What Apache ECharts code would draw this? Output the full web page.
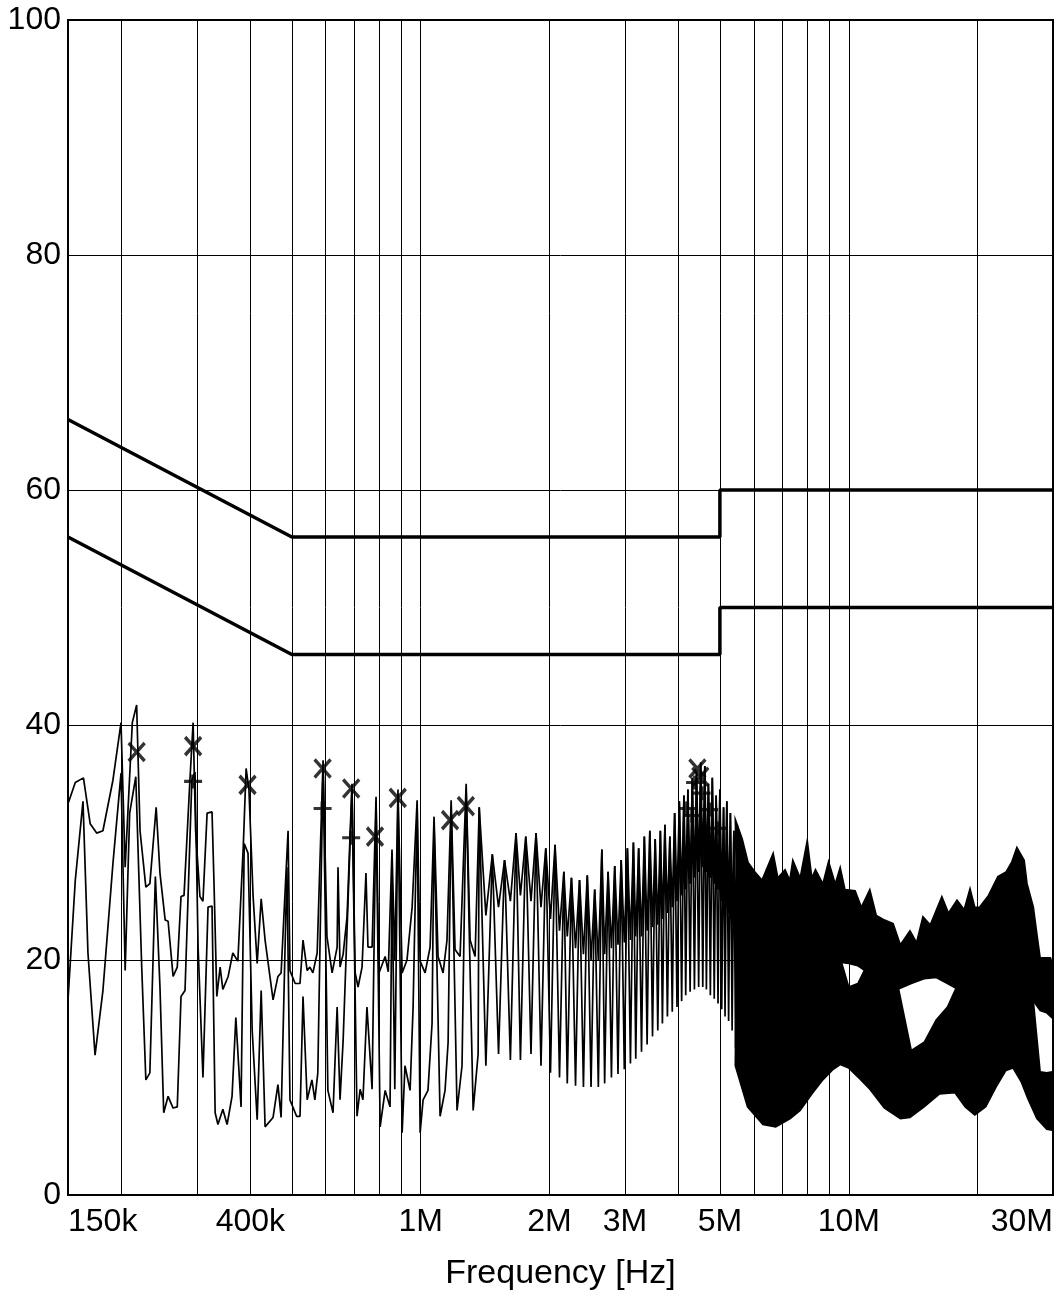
<!DOCTYPE html>
<html>
<head>
<meta charset="utf-8">
<script src="https://cdn.jsdelivr.net/npm/echarts@6/dist/echarts.min.js"></script>
<style>
  html, body { margin: 0; padding: 0; background: #fff; }
  #emi-chart { width: 1059px; height: 1296px; }
</style>
</head>
<body>
<div id="emi-chart"></div>
<script>
  // frequencies are in MHz, levels in dB
  const gridFreqs = [0.15, 0.2, 0.3, 0.4, 0.5, 0.6, 0.7, 0.8, 0.9, 1, 2, 3, 4, 5, 6, 7, 8, 9, 10, 20, 30]
  const labelFreqs = [0.15, 0.4, 1, 2, 3, 5, 10, 30]
  const yTicks = [0, 20, 40, 60, 80, 100]

  // limit lines (QP / AV)
  const qpLimit = [[0.15, 66], [0.5, 56], [5, 56], [5, 60], [30, 60]]
  const avLimit = [[0.15, 56], [0.5, 46], [5, 46], [5, 50], [30, 50]]

  // upper trace below 1.37 MHz
  const peakLow = [
    [0.150, 33.3], [0.156, 35.1], [0.163, 35.5], [0.169, 31.6], [0.175, 30.8], [0.181, 31.0],
    [0.191, 35.3], [0.1995, 40.2], [0.204, 27.9], [0.212, 40.2], [0.217, 41.7], [0.221, 31.0],
    [0.228, 26.2], [0.233, 26.5], [0.241, 33.0], [0.246, 27.4], [0.253, 23.4], [0.257, 23.3],
    [0.264, 18.6], [0.270, 19.4], [0.2755, 25.4], [0.280, 25.5], [0.289, 35.3], [0.294, 40.2],
    [0.298, 31.0], [0.305, 25.4], [0.310, 25.0], [0.317, 32.5], [0.3255, 32.6], [0.329, 26.5],
    [0.334, 16.9], [0.340, 19.4], [0.345, 17.5], [0.355, 18.6], [0.364, 20.6], [0.374, 19.9],
    [0.385, 29.6], [0.391, 36.3], [0.397, 34.5], [0.406, 25.4], [0.415, 19.7], [0.424, 25.2],
    [0.433, 21.7], [0.452, 16.6], [0.464, 18.6], [0.472, 18.9], [0.490, 31.0], [0.495, 19.1],
    [0.509, 18.0], [0.5225, 18.0], [0.531, 21.7], [0.543, 19.1], [0.551, 19.4], [0.560, 18.9],
    [0.573, 20.6], [0.5915, 37.0], [0.604, 22.0], [0.621, 18.9], [0.638, 21.1], [0.641, 27.9],
    [0.648, 19.4], [0.659, 20.5], [0.673, 23.7], [0.691, 35.0], [0.703, 18.9], [0.714, 17.7],
    [0.7295, 19.4], [0.745, 27.4], [0.753, 21.1], [0.770, 21.1], [0.7865, 33.9], [0.799, 18.9],
    [0.826, 20.3], [0.840, 19.0], [0.857, 29.4], [0.870, 20.0], [0.885, 34.5], [0.905, 18.9],
    [0.929, 20.0], [0.955, 24.5], [0.981, 33.6], [0.997, 19.9], [1.024, 18.9], [1.052, 21.1],
    [1.0745, 32.2], [1.098, 20.3], [1.128, 18.9], [1.152, 21.7], [1.178, 33.6], [1.203, 20.9],
    [1.236, 20.3], [1.277, 35.0], [1.3045, 21.7], [1.340, 20.3]
  ]

  // lower trace below 1.37 MHz
  const avgLow = [
    [0.150, 16.6], [0.156, 26.8], [0.1626, 33.5], [0.167, 20.6], [0.1735, 11.9], [0.181, 17.4],
    [0.191, 28.2], [0.1995, 35.9], [0.204, 19.1], [0.209, 32.5], [0.216, 35.6], [0.223, 19.4],
    [0.228, 9.8], [0.233, 10.4], [0.240, 27.1], [0.246, 17.7], [0.251, 7.0], [0.257, 8.4],
    [0.264, 7.4], [0.270, 7.5], [0.2755, 16.9], [0.2815, 17.4], [0.292, 35.3], [0.297, 36.0],
    [0.302, 21.1], [0.310, 10.0], [0.3186, 24.5], [0.3255, 24.6], [0.331, 7.0], [0.336, 6.0],
    [0.345, 7.3], [0.353, 6.0], [0.3625, 8.4], [0.370, 15.1], [0.3805, 7.5], [0.387, 29.9],
    [0.395, 29.1], [0.404, 14.0], [0.415, 6.4], [0.424, 17.4], [0.433, 5.8], [0.452, 6.6],
    [0.464, 9.4], [0.472, 6.6], [0.487, 27.9], [0.495, 8.1], [0.513, 6.7], [0.5225, 6.7],
    [0.531, 16.9], [0.543, 8.1], [0.557, 9.8], [0.566, 8.1], [0.575, 10.4], [0.5915, 36.5],
    [0.607, 8.9], [0.624, 7.0], [0.638, 16.0], [0.648, 8.1], [0.659, 13.2], [0.691, 34.5],
    [0.710, 6.7], [0.722, 9.0], [0.733, 8.1], [0.749, 16.0], [0.770, 9.0], [0.7865, 33.5],
    [0.804, 5.8], [0.826, 8.9], [0.848, 7.5], [0.857, 27.0], [0.870, 9.0], [0.885, 34.0],
    [0.905, 5.3], [0.919, 11.0], [0.9445, 8.9], [0.960, 16.0], [0.981, 33.0], [0.997, 5.3],
    [1.013, 8.1], [1.040, 8.9], [1.063, 14.6], [1.0745, 31.5], [1.110, 6.7], [1.140, 8.9],
    [1.159, 13.0], [1.178, 33.0], [1.216, 7.2], [1.249, 11.0], [1.277, 34.5], [1.326, 7.2],
    [1.362, 12.0]
  ]

  // harmonic spikes 1.37 - 5.5 MHz (shared tops, separate valleys)
  const spikeFreqs = [1.37, 1.47, 1.57, 1.67, 1.76, 1.86, 1.96, 2.06, 2.16, 2.25, 2.35, 2.45, 2.55, 2.65,
    2.74, 2.84, 2.94, 3.04, 3.14, 3.23, 3.33, 3.43, 3.53, 3.63, 3.72, 3.82, 3.92, 4.02, 4.12, 4.21,
    4.31, 4.41, 4.51, 4.61, 4.70, 4.80, 4.90, 5.00, 5.10, 5.19, 5.29, 5.39, 5.49]
  const spikeTops = [33, 29, 28.5, 30.8, 30.5, 30.8, 29.5, 29.8, 27.5, 27, 26.8, 27.2, 26, 29.4,
    27.5, 28, 28.5, 29.5, 30, 29.5, 30.5, 31, 30.3, 31, 31.5, 30.5, 32.5, 33.5, 34, 34.5,
    35.5, 36, 36.8, 36.5, 35, 35.5, 34, 34.5, 33, 33.5, 32.5, 31, 31.5]
  const valleyFreqs = [1.42, 1.52, 1.62, 1.71, 1.81, 1.91, 2.01, 2.11, 2.20, 2.30, 2.40, 2.50, 2.60, 2.69,
    2.79, 2.89, 2.99, 3.09, 3.18, 3.28, 3.38, 3.48, 3.58, 3.67, 3.77, 3.87, 3.97, 4.07, 4.16, 4.26,
    4.36, 4.46, 4.56, 4.65, 4.75, 4.85, 4.95, 5.05, 5.14, 5.24, 5.34, 5.44, 5.54]
  const peakValleys = [23.8, 24.5, 25, 25.5, 25, 24.5, 23.5, 22.5, 22, 21, 20.5, 20, 20, 20.5,
    21, 21.3, 21.5, 21.7, 22, 22, 22.5, 22.8, 23, 23.5, 24, 24.5, 25, 25.5, 26, 26.5,
    27, 27.5, 27.9, 27.5, 27, 26.5, 26, 25, 24.5, 24, 23, 22, 21]
  const avgValleys = [11, 12, 11.5, 11.5, 12, 11, 10.4, 10, 9.5, 9.3, 9.2, 9.2, 9.2, 9.5,
    10, 10.3, 10.7, 11.2, 11.6, 12.2, 12.8, 13.5, 14, 14.6, 15.2, 15.6, 16, 16.5, 17, 17.3,
    17.5, 17.7, 17.7, 17.5, 17, 16.7, 16.3, 15.8, 15.2, 14.8, 14, 12.5, 11]

  // dense region above 5.5 MHz: outer edges (jagged) and inner edges of the two traces
  const peakTopFreqs = [5.43, 5.64, 5.82, 6.04, 6.27, 6.66, 6.83, 7.10, 7.28, 7.40, 7.70, 8.00, 8.20, 8.36,
    8.70, 8.97, 9.30, 9.55, 9.80, 10.35, 10.7, 11.2, 11.6, 12.13, 12.7, 13.2, 13.9, 14.4, 14.9, 15.5,
    16.5, 17.1, 17.9, 18.6, 19.2, 19.7, 20.2, 21.2, 22.3, 23.3, 24.0, 24.7, 25.7, 26.1, 27.0, 27.5,
    28.0, 29.6, 30]
  const peakTop = [32, 30.3, 28.3, 27.5, 26.8, 29.1, 27, 27.7, 26.8, 28.5, 27, 30.2, 27, 27.7,
    26.5, 28.4, 26.5, 27.9, 26, 25.9, 24.5, 26, 23.8, 23.4, 23.1, 21.3, 22.5, 21.5, 23.7, 23,
    25.4, 24, 25.1, 24.3, 26.1, 24.5, 24.5, 25.5, 27.1, 27.5, 28.3, 29.6, 28.5, 26.5, 24.5, 22.3,
    20.2, 20.2, 19.5]
  const innerFreqs = [5.5, 6, 6.5, 7, 7.5, 8, 8.5, 9, 9.5, 10, 10.5, 11, 11.5, 12, 13, 14, 15, 16,
    17, 18, 19, 20, 21, 22, 23, 24, 25, 26, 27, 28, 29, 30]
  const peakInner = [21, 20.5, 19.5, 19, 18.5, 18.5, 19, 19.5, 19.8, 19.7, 19.5, 19, 18.5, 18, 17.5, 18, 18.4, 18.5,
    18, 17.5, 17.5, 17.8, 18.2, 18.5, 19, 19, 18.5, 17.5, 16.5, 15.7, 15.5, 15]
  const avgInner = [30, 26, 24, 22.5, 21.5, 21, 21, 21, 20.5, 17.7, 18, 19.5, 19, 18.5, 18, 12.3, 13, 14.9,
    16, 18, 19.5, 20.5, 21, 21.5, 21.5, 21, 20, 18, 16.5, 10.5, 10.4, 10.5]
  const avgBottomFreqs = [5.43, 5.8, 6.3, 6.75, 7.3, 7.7, 8.2, 8.7, 9.2, 9.55, 10, 10.6, 11.2, 12.1, 13.2,
    13.9, 15, 16.3, 17.7, 18.7, 19.7, 20.9, 22.1, 23.3, 24.2, 25.3, 26.2, 27.5, 29, 30]
  const avgBottom = [11, 7.5, 6.0, 5.8, 6.5, 7.2, 8.6, 9.8, 10.7, 11.1, 10.8, 9.9, 9.0, 7.4, 6.5,
    6.6, 7.5, 8.6, 8.7, 7.5, 6.8, 7.5, 9.2, 10.6, 10.8, 9.6, 8.2, 6.5, 5.6, 5.5]

  // final measurements: x = quasi-peak, + = average
  const qpMarkFreqs = [0.217, 0.294, 0.394, 0.590, 0.688, 0.782, 0.884, 1.171, 1.275, 4.43, 4.50]
  const qpMarkLevels = [37.7, 38.2, 34.9, 36.3, 34.6, 30.5, 33.8, 31.9, 33.1, 36.3, 35.6]
  const avMarkFreqs = [0.294, 0.590, 0.688, 4.19, 4.31, 4.375, 4.53, 4.72, 4.93]
  const avMarkLevels = [35.2, 32.9, 30.4, 32.9, 32.3, 35.1, 34.2, 32.8, 31.2]

  const MHZ = 1e6
  const toHz = list => list.map(p => [p[0] * MHZ, p[1]])

  // spiky polylines for the harmonic region
  const spikeTrace = (valleys) => {
    const pts = []
    spikeFreqs.forEach((f, i) => {
      pts.push([f * MHZ, spikeTops[i]])
      pts.push([valleyFreqs[i] * MHZ, valleys[i]])
    })
    return pts
  }
  const peakTrace = toHz(peakLow).concat(spikeTrace(peakValleys))
  const avgTrace = toHz(avgLow).concat(spikeTrace(avgValleys))

  // filled envelope between an upper and a lower edge, placed through the axes
  const bandSeries = (name, topF, topV, botF, botV) => ({
    name: name,
    type: 'custom',
    data: [[topF[0] * MHZ, topV[0]]],
    z: 2,
    renderItem: (params, api) => {
      const top = topF.map((f, i) => api.coord([f * MHZ, topV[i]]))
      const bottom = botF.map((f, i) => api.coord([f * MHZ, botV[i]])).reverse()
      return {
        type: 'polygon',
        shape: { points: top.concat(bottom) },
        style: { fill: '#000', stroke: '#000', lineWidth: 1.5 }
      }
    }
  })

  const fmtFreq = v => v >= MHZ ? Math.round(v / MHZ) + 'M' : Math.round(v / 1e3) + 'k'

  const font = "'Liberation Sans', Arial, sans-serif"
  const traceStyle = { color: '#000', width: 1.7 }

  const xSymbol = 'path://M0,0L10,10M10,0L0,10'
  const plusSymbol = 'path://M0,5L10,5M5,0L5,10'

  const option = {
    animation: false,
    backgroundColor: '#fff',
    grid: {
      left: 68,
      right: 6,
      top: 20,
      bottom: 101,
      show: true,
      borderColor: '#000',
      borderWidth: 2,
      backgroundColor: 'transparent'
    },
    xAxis: {
      type: 'log',
      logBase: 10,
      min: 0.15 * MHZ,
      max: 30 * MHZ,
      name: 'Frequency [Hz]',
      nameLocation: 'middle',
      nameGap: 62,
      nameTextStyle: { fontFamily: font, fontSize: 34, color: '#000' },
      axisLine: { show: false },
      axisTick: { show: false, customValues: gridFreqs.map(f => f * MHZ) },
      splitLine: { show: true, lineStyle: { color: '#000', width: 1 } },
      axisLabel: {
        customValues: labelFreqs.map(f => f * MHZ),
        formatter: fmtFreq,
        fontFamily: font,
        fontSize: 32,
        color: '#000',
        margin: 11,
        showMinLabel: true,
        showMaxLabel: true,
        alignMinLabel: 'left',
        alignMaxLabel: 'right'
      }
    },
    yAxis: {
      type: 'value',
      min: 0,
      max: 100,
      interval: 20,
      axisLine: { show: false },
      axisTick: { show: false },
      splitLine: { show: true, lineStyle: { color: '#000', width: 1 } },
      axisLabel: {
        fontFamily: font,
        fontSize: 32,
        color: '#000',
        margin: 7,
        formatter: v => (yTicks.indexOf(v) >= 0 ? String(v) : '')
      }
    },
    series: [
      bandSeries('avg band', innerFreqs, avgInner, avgBottomFreqs, avgBottom),
      bandSeries('peak band', peakTopFreqs, peakTop, innerFreqs, peakInner),
      {
        name: 'avg trace',
        type: 'line',
        symbol: 'none',
        data: avgTrace,
        lineStyle: traceStyle
      },
      {
        name: 'peak trace',
        type: 'line',
        symbol: 'none',
        data: peakTrace,
        lineStyle: traceStyle
      },
      {
        name: 'QP limit',
        type: 'line',
        symbol: 'none',
        data: toHz(qpLimit),
        lineStyle: { color: '#000', width: 3.5 }
      },
      {
        name: 'AV limit',
        type: 'line',
        symbol: 'none',
        data: toHz(avLimit),
        lineStyle: { color: '#000', width: 3.5 }
      },
      {
        name: 'QP',
        type: 'scatter',
        symbol: xSymbol,
        symbolSize: [16, 18],
        data: qpMarkFreqs.map((f, i) => [f * MHZ, qpMarkLevels[i]]),
        itemStyle: { color: 'none', borderColor: '#000', borderWidth: 3.5 },
        z: 5
      },
      {
        name: 'AV',
        type: 'scatter',
        symbol: plusSymbol,
        symbolSize: [18, 14],
        data: avMarkFreqs.map((f, i) => [f * MHZ, avMarkLevels[i]]),
        itemStyle: { color: 'none', borderColor: '#000', borderWidth: 3.5 },
        z: 5
      }
    ]
  }

  const chart = echarts.init(document.getElementById('emi-chart'))
  chart.setOption(option)
</script>
</body>
</html>
